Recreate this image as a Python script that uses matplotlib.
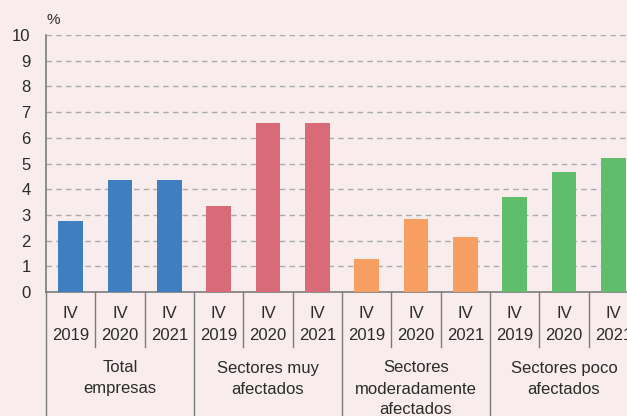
import matplotlib
matplotlib.use("Agg")
import matplotlib.pyplot as plt
import matplotlib.transforms as mtransforms

plt.rcParams['font.family'] = ['Liberation Sans', 'DejaVu Sans']

groups = ["Total\nempresas", "Sectores muy\nafectados", "Sectores\nmoderadamente\nafectados", "Sectores poco\nafectados"]
periods = ["IV\n2019", "IV\n2020", "IV\n2021"]
values_total = [2.75, 4.36, 4.36]
values_muy = [3.35, 6.58, 6.58]
values_moderado = [1.28, 2.84, 2.14]
values_poco = [3.70, 4.67, 5.21]
series = [values_total, values_muy, values_moderado, values_poco]
colors = ["#3f7fc1", "#d96b79", "#f79f63", "#5fbd6b"]
yticks = list(range(0, 11))

bg = "#f8ecec"
txt = "#2b2b2b"
axcol = "#7a7a7a"
FS = 12

fig = plt.figure(figsize=(6.27, 4.16), dpi=100, facecolor=bg)
H = 257.0
ax = fig.add_axes([46/627, 124/416, 592/627, H/416])
ax.set_facecolor(bg)

n = len(periods)
for g, vals in enumerate(series):
    xs = [g*n + i for i in range(n)]
    ax.bar(xs, vals, width=0.5, color=colors[g], zorder=3)

ax.set_xlim(-0.5, len(series)*n - 0.5)
ax.set_ylim(0, 10)
ax.set_yticks(yticks)
ax.set_yticklabels([str(t) for t in yticks], fontsize=FS, color=txt)
ax.tick_params(axis='y', length=0, pad=11)
ax.set_xticks([])
for t in yticks[1:]:
    ax.axhline(t, color="#aaaaaa", lw=1.0, ls=(0, (4, 3)), zorder=1)

for s in ["top", "right"]:
    ax.spines[s].set_visible(False)
for s in ["left", "bottom"]:
    ax.spines[s].set_color(axcol)
    ax.spines[s].set_linewidth(1.2)

def ay(px):
    return (292 - px) / H

trans = mtransforms.blended_transform_factory(ax.transData, ax.transAxes)
total = len(series)*n
for k in range(total + 1):
    xb = k - 0.5
    y0 = ay(430) if k % n == 0 else ay(347)
    ax.plot([xb, xb], [0, y0], transform=trans, color=axcol, lw=1.0, clip_on=False)

for g in range(len(series)):
    for i, p in enumerate(periods):
        x = g*n + i
        for j, line in enumerate(p.split("\n")):
            ax.text(x, ay(313 + 22*j), line, transform=trans, ha='center', va='center',
                    fontsize=FS, color=txt)
    for j, line in enumerate(groups[g].split("\n")):
        ax.text(g*n + 1, ay(368 + 21*j), line, transform=trans, ha='center', va='center',
                fontsize=FS, color=txt)

fig.text(47/627, 1 - 20/416, "%", ha='left', va='center', fontsize=11, color=txt)

fig.savefig("out.png", dpi=100, facecolor=bg)
